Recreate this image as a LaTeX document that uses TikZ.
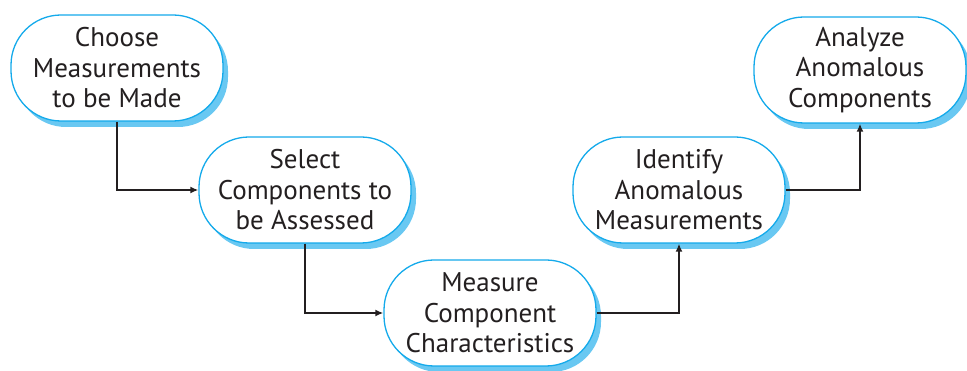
\documentclass[tikz,border=0pt]{standalone}
\usepackage{fontspec}
\setmainfont{PT Sans}
\usetikzlibrary{shadows,arrows.meta}
\definecolor{edgeblue}{RGB}{20,170,235}
\definecolor{shadeblue}{RGB}{105,200,242}
\definecolor{ink}{RGB}{35,31,32}
\tikzset{
  stepbox/.style={rectangle, rounded corners=50pt, draw=edgeblue, line width=1.3pt,
    fill=white, minimum width=212pt, minimum height=106pt, align=center,
    text=ink, font=\fontsize{27}{30.5}\selectfont, inner xsep=2pt,
    drop shadow={shadow xshift=5pt, shadow yshift=-6pt, fill=shadeblue, opacity=1}},
  flow/.style={draw=ink, line width=2pt, -{Latex[length=8pt,width=7pt]}}
}
\begin{document}
\begin{tikzpicture}[x=1pt,y=1pt]
\useasboundingbox (0,0) rectangle (967,371);
\node[stepbox] (choose)   at (117,303) {Choose\\Measurements\\to be Made};
\node[stepbox] (select)   at (305,181) {Select\\Components to\\be Assessed};
\node[stepbox] (measure)  at (490,58)  {Measure\\Component\\Characteristics};
\node[stepbox] (identify) at (679,181) {Identify\\Anomalous\\Measurements};
\node[stepbox] (analyze)  at (860,301) {Analyze\\Anomalous\\Components};
\draw[flow] (choose.south) |- (select.west);
\draw[flow] (select.south) |- (measure.west);
\draw[flow] (measure.east) -| (identify.south);
\draw[flow] (identify.east) -| (analyze.south);
\end{tikzpicture}
\end{document}
